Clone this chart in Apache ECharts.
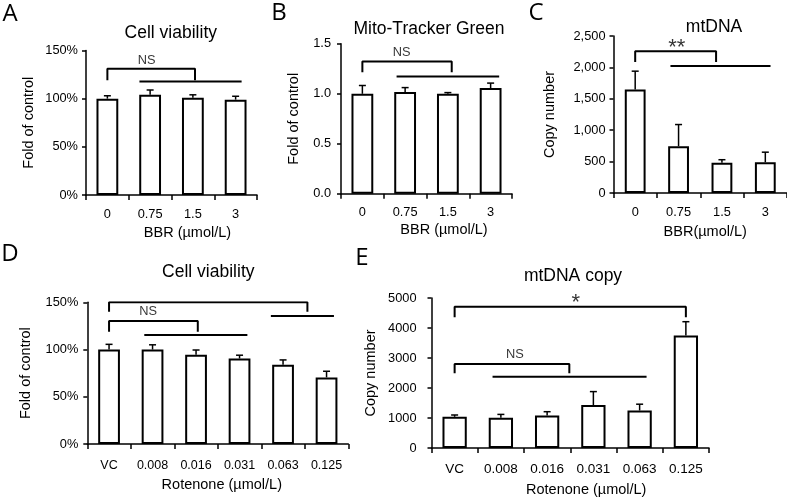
<!DOCTYPE html>
<html><head><meta charset="utf-8">
<script src="https://cdn.jsdelivr.net/npm/echarts@6/dist/echarts.min.js"></script>
<style>html,body{margin:0;padding:0;background:#fff}#c{width:787px;height:500px}</style>
</head><body><div id="c"></div>
<script>
// ---------- Panel A: Cell viability (BBR) ----------
const catsA = ['0', '0.75', '1.5', '3'];
const valsA = [100, 104, 101, 99];
const errA  = [3, 5, 3, 3.5];
const bracketsA = [[[0, 119], [0, 131], [2.05, 131], [2.05, 119]], [[0.75, 117.7], [3.14, 117.7]]];
const marksA = [[0.92, 140, 'NS']];

// ---------- Panel B: Mito-Tracker Green ----------
const catsB = ['0', '0.75', '1.5', '3'];
const valsB = [1.0, 1.017, 1.0, 1.057];
const errB  = [0.083, 0.045, 0.012, 0.05];
const bracketsB = [[[0, 1.216], [0, 1.323], [2.09, 1.323], [2.09, 1.216]], [[0.8, 1.173], [3.2, 1.173]]];
const marksB = [[0.92, 1.416, 'NS']];

// ---------- Panel C: mtDNA ----------
const catsC = ['0', '0.75', '1.5', '3'];
const valsC = [1650, 745, 480, 490];
const errC  = [290, 345, 50, 160];
const bracketsC = [[[0, 2085], [0, 2256], [1.865, 2256], [1.865, 2085]], [[0.813, 2021], [3.12, 2021]]];
const marksC = [[0.96, 2310, '**']];

// ---------- Panel D: Cell viability (Rotenone) ----------
const catsD = ['VC', '0.008', '0.016', '0.031', '0.063', '0.125'];
const valsD = [100, 100, 94.5, 90.5, 84, 70.5];
const errD  = [5.5, 5, 5, 3.5, 5, 6.5];
const bracketsD = [
  [[0, 140], [0, 150], [4.56, 150], [4.56, 140]],
  [[3.72, 135.5], [5.17, 135.5]],
  [[0, 118.9], [0, 130.2], [2.04, 130.2], [2.04, 118.9]],
  [[0.81, 115.4], [3.18, 115.4]]
];
const marksD = [[2.11, 155, '*'], [0.9, 140, 'NS']];

// ---------- Panel E: mtDNA copy (Rotenone) ----------
const catsE = ['VC', '0.008', '0.016', '0.031', '0.063', '0.125'];
const valsE = [1040, 1010, 1080, 1430, 1250, 3750];
const errE  = [60, 110, 130, 450, 210, 460];
const bracketsE = [
  [[0, 4357], [0, 4710], [5.0, 4710], [5.0, 4357]],
  [[0, 2490], [0, 2800], [2.48, 2800], [2.48, 2490]],
  [[0.82, 2377], [4.15, 2377]]
];
const marksE = [[2.62, 4830, '*'], [1.305, 3123, 'NS']];

// ---------- layout / style (not data) ----------
const FONT = '"Liberation Sans", Arial, sans-serif';
const panels = [
  {cats: catsA, vals: valsA, errs: errA, paths: bracketsA, marks: marksA, barW: '51%',
   grid: {left: 86, top: 50.5, width: 171, height: 144.5}, yMax: 150, yStep: 50, fmt: v => v + '%',
   yName: 'Fold of control', yGap: 50, yLabMargin: 8, xName: 'BBR (µmol/L)', xGap: 30, xPad: 32, xLabSize: 12.8, xLabMargin: 12.5},
  {cats: catsB, vals: valsB, errs: errB, paths: bracketsB, marks: marksB, barW: '51%',
   grid: {left: 341, top: 43.8, width: 171, height: 150}, yMax: 1.5, yStep: 0.5, fmt: v => v.toFixed(1),
   yName: 'Fold of control', yGap: 40, yLabMargin: 10, xName: 'BBR (µmol/L)', xGap: 29, xPad: 35, xLabSize: 12.8, xLabMargin: 12.5},
  {cats: catsC, vals: valsC, errs: errC, paths: bracketsC, marks: marksC, barW: '48%',
   grid: {left: 613.5, top: 36, width: 177.6, height: 157}, yMax: 2500, yStep: 500, fmt: v => v.toLocaleString('en-US'),
   yName: 'Copy number', yGap: 56, yLabMargin: 8, xName: 'BBR(µmol/L)', xGap: 31.5, xPad: 10, xLabSize: 12.8, xLabMargin: 13},
  {cats: catsD, vals: valsD, errs: errD, paths: bracketsD, marks: marksD, barW: '50%',
   grid: {left: 87.3, top: 302.3, width: 261, height: 141.7}, yMax: 150, yStep: 50, fmt: v => v + '%',
   yName: 'Fold of control', yGap: 54, yLabMargin: 9, xName: 'Rotenone (µmol/L)', xGap: 33.5, xPad: 8, xLabSize: 12.5, xLabMargin: 15},
  {cats: catsE, vals: valsE, errs: errE, paths: bracketsE, marks: marksE, barW: '52.5%',
   grid: {left: 431.5, top: 298, width: 277.5, height: 150}, yMax: 5000, yStep: 1000, fmt: v => String(v),
   yName: 'Copy number', yGap: 53, yLabMargin: 15, xName: 'Rotenone (µmol/L)', xGap: 34, xPad: 32, xLabSize: 13.5, xLabMargin: 14}
];

const grids = [], xAxes = [], yAxes = [], series = [];
panels.forEach((p, i) => {
  grids.push(Object.assign({containLabel: false}, p.grid));
  const axisLine = {show: true, onZero: false, lineStyle: {color: '#000', width: 1.5}};
  const axisTick = {show: true, length: 5, inside: false, lineStyle: {color: '#000', width: 1.5}};
  xAxes.push({
    type: 'category', gridIndex: i, data: p.cats, boundaryGap: true,
    axisLine, axisTick: Object.assign({alignWithLabel: false, interval: 0}, axisTick),
    axisLabel: {color: '#000', fontFamily: FONT, fontSize: p.xLabSize, margin: p.xLabMargin, interval: 0},
    splitLine: {show: false},
    name: p.xName, nameLocation: 'middle', nameGap: p.xGap,
    nameTextStyle: {color: '#000', fontFamily: FONT, fontSize: 14.5, padding: [0, 0, 0, p.xPad]}
  });
  xAxes.push({type: 'value', gridIndex: i, min: -0.5, max: p.cats.length - 0.5, show: false,
    axisLine: {show: false, onZero: false}, splitLine: {show: false}});
  yAxes.push({
    type: 'value', gridIndex: i, min: 0, max: p.yMax, interval: p.yStep,
    axisLine, axisTick: Object.assign({}, axisTick, {length: 4}),
    axisLabel: {color: '#000', fontFamily: FONT, fontSize: 12.8, margin: p.yLabMargin, formatter: p.fmt},
    splitLine: {show: false},
    name: p.yName, nameLocation: 'middle', nameGap: p.yGap,
    nameTextStyle: {color: '#000', fontFamily: FONT, fontSize: 14.5}
  });
  series.push({
    type: 'bar', xAxisIndex: 2 * i, yAxisIndex: i, data: p.vals, barWidth: p.barW,
    itemStyle: {color: '#fff', borderColor: '#000', borderWidth: 2}, silent: true, animation: false, z: 2
  });
  series.push({
    type: 'custom', xAxisIndex: 2 * i, yAxisIndex: i, z: 3, animation: false, silent: true,
    data: p.vals.map((v, j) => [j, v, v + p.errs[j]]),
    encode: {x: 0, y: [1, 2]},
    renderItem: (params, api) => {
      const x = api.value(0);
      const lo = api.coord([x, api.value(1)]);
      const hi = api.coord([x, api.value(2)]);
      const w = 3.5;
      return {type: 'group', children: [
        {type: 'line', shape: {x1: lo[0], y1: lo[1], x2: hi[0], y2: hi[1]}, style: {stroke: '#000', lineWidth: 1.5}},
        {type: 'line', shape: {x1: hi[0] - w, y1: hi[1], x2: hi[0] + w, y2: hi[1]}, style: {stroke: '#000', lineWidth: 1.5}}
      ]};
    }
  });
  p.paths.forEach(path => {
    series.push({
      type: 'line', xAxisIndex: 2 * i + 1, yAxisIndex: i, data: path, symbol: 'none',
      lineStyle: {color: '#000', width: 2}, silent: true, animation: false, z: 4
    });
  });
  p.marks.forEach(m => {
    const star = m[2].indexOf('*') >= 0;
    series.push({
      type: 'scatter', xAxisIndex: 2 * i + 1, yAxisIndex: i, data: [[m[0], m[1]]], symbolSize: 1,
      itemStyle: {color: 'rgba(0,0,0,0)'}, silent: true, animation: false, z: 5,
      label: {show: true, position: 'inside', formatter: m[2], color: '#000', fontFamily: FONT,
              fontSize: star ? 22 : 12.8}
    });
  });
});

const titles = [
  ['Cell viability', 170.8, 33], ['Mito-Tracker Green', 429, 29.5], ['mtDNA', 714, 27],
  ['Cell viability', 208.3, 272], ['mtDNA copy', 573, 276.5]
];
const letters = [['A', 10, 14], ['B', 279, 13.5], ['C', 536, 13], ['D', 10, 254], ['E', 362, 258]];
const graphics = [];
titles.forEach(t => graphics.push({type: 'text', x: t[1], y: t[2], silent: true,
  style: {text: t[0], fill: '#000', font: '17.5px ' + FONT, textAlign: 'center', textVerticalAlign: 'middle'}}));
letters.forEach(t => graphics.push({type: 'text', x: t[1], y: t[2], silent: true,
  style: {text: t[0], fill: '#000', font: '24px "Open Sans", sans-serif', textAlign: 'center', textVerticalAlign: 'middle'}}));

const chart = echarts.init(document.getElementById('c'), null, {renderer: 'canvas'});
chart.setOption({
  backgroundColor: '#fff', animation: false,
  grid: grids, xAxis: xAxes, yAxis: yAxes, series, graphic: graphics
});
</script></body></html>
